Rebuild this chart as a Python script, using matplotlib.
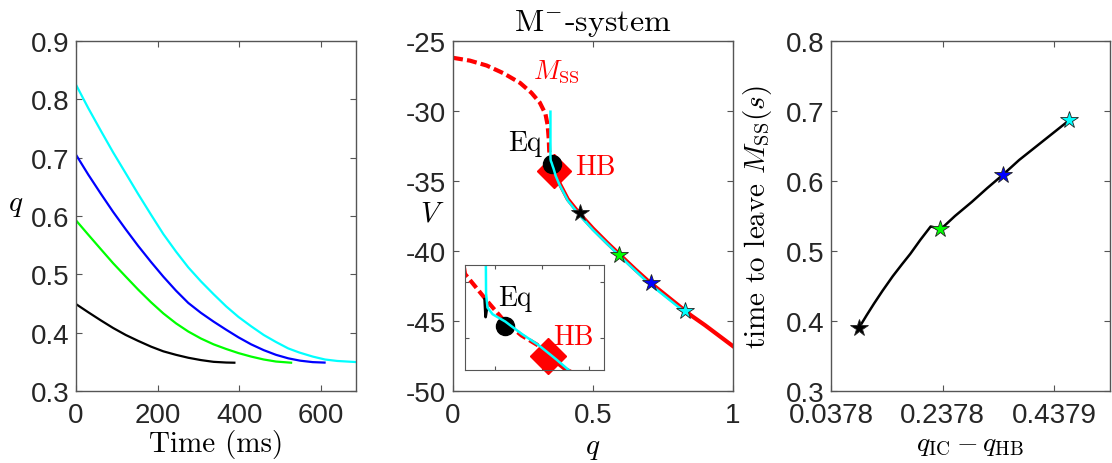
import matplotlib
matplotlib.use("Agg")
import matplotlib.pyplot as plt

plt.rcParams['mathtext.fontset'] = 'cm'
plt.rcParams['font.family'] = ['Liberation Sans', 'DejaVu Sans']
plt.rcParams['axes.unicode_minus'] = False

# ---- data ----
# left panel: q(t) for the four initial conditions
t_black = [0, 30, 61, 91, 122, 152, 184, 214, 245, 275, 306, 337, 368, 388]
q_black = [0.449, 0.435, 0.421, 0.408, 0.396, 0.386, 0.376, 0.368, 0.362, 0.357, 0.353, 0.350, 0.3488, 0.3485]
t_green = [0, 30, 61, 91, 122, 152, 184, 214, 245, 275, 306, 337, 368, 398, 429, 460, 490, 527]
q_green = [0.5925, 0.568, 0.543, 0.519, 0.496, 0.474, 0.452, 0.433, 0.416, 0.402, 0.390, 0.380,
           0.372, 0.365, 0.359, 0.354, 0.3505, 0.3485]
t_blue = [0, 30, 61, 91, 122, 152, 184, 214, 245, 275, 306, 337, 368, 398, 429, 460, 490, 520, 549, 580, 609]
q_blue = [0.705, 0.671, 0.638, 0.607, 0.577, 0.549, 0.521, 0.496, 0.472, 0.451, 0.434, 0.419, 0.405,
          0.392, 0.380, 0.370, 0.362, 0.356, 0.352, 0.3495, 0.3487]
t_cyan = [0, 30, 61, 91, 122, 152, 184, 214, 245, 275, 306, 337, 368, 398, 429, 460, 490, 520, 547,
          580, 610, 640, 684]
q_cyan = [0.825, 0.785, 0.746, 0.709, 0.673, 0.638, 0.602, 0.569, 0.539, 0.512, 0.488, 0.466, 0.445,
          0.427, 0.411, 0.396, 0.384, 0.373, 0.366, 0.359, 0.354, 0.3515, 0.3497]

# middle panel: M_SS branch (unstable dashed, stable solid) and cyan trajectory
q_mss_dash = [0.0, 0.06, 0.12, 0.18, 0.24, 0.28, 0.31, 0.33, 0.338, 0.342, 0.3436, 0.3486, 0.3522, 0.3557, 0.3593, 0.3614]
V_mss_dash = [-26.2, -26.4, -26.75, -27.3, -28.0, -28.7, -29.4, -30.2, -31.0, -32.0, -32.85, -33.36, -33.71, -33.95, -34.13, -34.31]
q_mss = [0.3614, 0.365, 0.38, 0.41, 0.45, 0.5, 0.55, 0.6, 0.65, 0.7, 0.75, 0.8, 0.85, 0.9, 0.95, 1.0]
V_mss = [-34.31, -34.55, -35.15, -36.3, -37.3, -38.4, -39.4, -40.35, -41.3, -42.2, -43.0, -43.8, -44.6, -45.3, -46.05, -46.8]
q_traj = [0.348, 0.348, 0.3481, 0.3484, 0.3495, 0.3522, 0.3557, 0.3593, 0.363, 0.3665, 0.38, 0.41, 0.45, 0.5, 0.6, 0.7, 0.8, 0.829]
V_traj = [-30.05, -32.0, -33.2, -33.45, -33.57, -33.7, -33.92, -34.12, -34.37, -34.62, -35.25, -36.4, -37.4, -38.5, -40.45, -42.32, -43.92, -44.35]
q_spike = [0.3478, 0.3480, 0.3483]
V_spike = [-33.3, -33.62, -33.45]
q_eq, V_eq = 0.3521, -33.775
q_hb, V_hb = 0.3614, -34.31
star_q = [0.4536, 0.594, 0.706, 0.829]
star_V = [-37.3, -40.3, -42.3, -44.3]
star_colors = ['black', (0, 1, 0), 'blue', 'cyan']

# right panel: time to leave M_SS vs q_IC - q_HB
dq_line = [0.0878, 0.1015, 0.115, 0.13, 0.1485, 0.165, 0.18, 0.198, 0.2164, 0.222, 0.233, 0.26,
           0.29, 0.318, 0.346, 0.375, 0.405, 0.435, 0.465]
tl_line = [0.390, 0.408, 0.425, 0.443, 0.464, 0.481, 0.496, 0.516, 0.535, 0.534, 0.530, 0.550,
           0.570, 0.590, 0.609, 0.630, 0.649, 0.668, 0.687]
dq_star = [0.0878, 0.233, 0.346, 0.465]
tl_star = [0.390, 0.531, 0.609, 0.687]
right_xticks = [0.0378, 0.2378, 0.4379]

W, H = 1112, 464
fig = plt.figure(figsize=(W / 100, H / 100), dpi=100)


def pos(x0, x1, ytop, ybot):
    return [x0 / W, 1 - ybot / H, (x1 - x0) / W, (ybot - ytop) / H]


def style(ax, fs=20):
    for s in ax.spines.values():
        s.set_color('#555555')
        s.set_linewidth(1.0)
    ax.tick_params(direction='in', top=True, right=True, length=4, width=0.8,
                   color='#555555', labelsize=fs, labelcolor='#262626')
    ax.tick_params(axis='x', pad=8)
    ax.tick_params(axis='y', pad=5)


cmr = 'cmr10'

# ---------- left ----------
ax1 = fig.add_axes(pos(76, 356, 42, 392))
ax1.plot(t_black, q_black, color='black', lw=1.6)
ax1.plot(t_green, q_green, color=(0, 1, 0), lw=1.6)
ax1.plot(t_blue, q_blue, color='blue', lw=1.6)
ax1.plot(t_cyan, q_cyan, color='cyan', lw=1.6)
ax1.set_xlim(0, 686)
ax1.set_ylim(0.3, 0.9)
ax1.set_xticks([0, 200, 400, 600])
ax1.set_yticks([0.3, 0.4, 0.5, 0.6, 0.7, 0.8, 0.9])
style(ax1)
ax1.set_xlabel('Time (ms)', fontfamily=cmr, fontsize=21)
ax1.xaxis.set_label_coords(0.5, -0.11)
ax1.set_ylabel('$q$', fontsize=21, rotation=0, va='center')
ax1.yaxis.set_label_coords(-0.215, 0.534)

# ---------- middle ----------
ax2 = fig.add_axes(pos(453, 733, 42, 392))
ax2.plot(q_mss_dash, V_mss_dash, color='red', lw=3, ls=(0, (2.4, 1.0)))
ax2.plot(q_mss, V_mss, color='red', lw=3)
ax2.plot(q_hb, V_hb, 'D', color='red', ms=17)
ax2.plot(q_eq, V_eq, 'o', color='black', ms=13)
ax2.plot(q_traj, V_traj, color='cyan', lw=1.8)
for q, V, c in zip(star_q, star_V, star_colors):
    ax2.plot(q, V, '*', color=c, ms=13, mec='#222222', mew=0.6)
ax2.text(0.257, -32.3, 'Eq', fontfamily=cmr, fontsize=20, ha='center', va='center')
ax2.text(0.507, -34.0, 'HB', fontfamily=cmr, fontsize=20, color='red', ha='center', va='center')
ax2.text(0.371, -27.1, r'$M_{\rm SS}$', fontsize=19, color='red', ha='center', va='center')
ax2.set_xlim(0, 1)
ax2.set_ylim(-50, -25)
ax2.set_xticks([0, 0.5, 1])
ax2.set_xticklabels(['0', '0.5', '1'])
ax2.set_yticks([-50, -45, -40, -35, -30, -25])
style(ax2)
ax2.set_title(r'M$^{-}$-system', fontfamily=cmr, fontsize=23, pad=8)
ax2.set_xlabel('$q$', fontsize=21)
ax2.xaxis.set_label_coords(0.5, -0.12)
ax2.set_ylabel('$V$', fontsize=21, rotation=0, va='center')
ax2.yaxis.set_label_coords(-0.075, 0.511)

# inset (zoom around Eq / HB)
ax_in = fig.add_axes(pos(465, 604, 266, 371))
ax_in.plot(q_mss_dash, V_mss_dash, color='red', lw=3, ls=(0, (2.4, 1.0)))
ax_in.plot(q_mss, V_mss, color='red', lw=3)
ax_in.plot(q_hb, V_hb, 'D', color='red', ms=18, clip_on=False)
ax_in.plot(q_eq, V_eq, 'o', color='black', ms=13)
ax_in.plot(q_spike, V_spike, color='black', lw=2)
ax_in.plot(q_traj, V_traj, color='cyan', lw=1.8)
ax_in.text(0.3543, -33.28, 'Eq', fontfamily=cmr, fontsize=20, ha='center', va='center')
ax_in.text(0.3668, -33.98, 'HB', fontfamily=cmr, fontsize=20, color='red', ha='center', va='center')
ax_in.set_xlim(0.3436, 0.3733)
ax_in.set_ylim(-34.566, -32.69)
ax_in.set_xticks([0.35, 0.36, 0.37])
ax_in.set_yticks([-34, -33])
ax_in.set_xticklabels([])
ax_in.set_yticklabels([])
for s in ax_in.spines.values():
    s.set_color('#555555')
ax_in.tick_params(direction='in', top=True, right=True, length=3, color='#555555')

# ---------- right ----------
ax3 = fig.add_axes(pos(831, 1110, 42, 392))
ax3.plot(dq_line, tl_line, color='black', lw=1.8)
for x, y, c in zip(dq_star, tl_star, star_colors):
    ax3.plot(x, y, '*', color=c, ms=13, mec='#222222', mew=0.6)
ax3.set_xlim(0.0378, 0.5378)
ax3.set_ylim(0.3, 0.8)
ax3.set_xticks(right_xticks)
ax3.set_xticklabels(['0.0378', '0.2378', '0.4379'])
ax3.set_yticks([0.3, 0.4, 0.5, 0.6, 0.7, 0.8])
style(ax3)
ax3.set_xlabel(r'$q_{\rm IC}-q_{\rm HB}$', fontsize=20)
ax3.xaxis.set_label_coords(0.5, -0.115)
ax3.set_ylabel(r'time to leave $M_{\rm SS}(s)$', fontfamily=cmr, fontsize=21)
ax3.yaxis.set_label_coords(-0.205, 0.5)

fig.savefig('out.png', dpi=100)
